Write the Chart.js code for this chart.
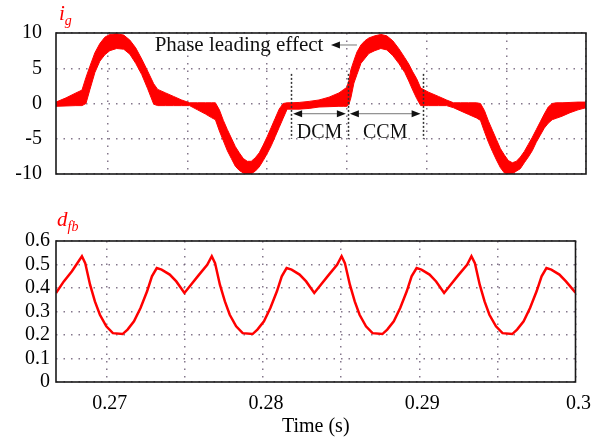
<!DOCTYPE html>
<html><head><meta charset="utf-8">
<script src="https://cdn.jsdelivr.net/npm/chart.js@4"></script>
<style>
html,body{margin:0;padding:0;background:#fff;}
#wrap{position:relative;width:598px;height:443px;overflow:hidden;background:#fff;}
canvas{position:absolute;left:0;}
#c1{top:0}
#c2{top:200px}
.lab{position:absolute;font-family:'Liberation Serif',serif;font-style:italic;color:#f00;line-height:1;}
.lab sub{font-size:14px;vertical-align:baseline;position:relative;top:5px;}
</style></head>
<body><div id="wrap">
<canvas id="c1" width="598" height="200"></canvas>
<canvas id="c2" width="598" height="243"></canvas>
<div class="lab" style="left:59px;top:3px;font-size:21px">i<sub>g</sub></div>
<div class="lab" style="left:57px;top:209px;font-size:21px">d<sub>fb</sub></div>
</div>
<script>
// ---- data: grid current i_g (upper / lower edge of the switching-ripple band)
const timeIg = [0.26675,0.26738,0.268,0.26838,0.26863,0.26888,0.26919,0.2695,0.26981,0.27013,0.27056,0.271,0.27138,0.27175,0.27213,0.2725,0.27288,0.27313,0.27363,0.27413,0.27463,0.27513,
0.27563,0.27613,0.2765,0.27675,0.277,0.27725,0.2775,0.27775,0.278,0.27825,0.2785,0.27875,0.279,0.27925,0.2795,0.27975,0.28,0.28025,0.2805,0.28075,0.281,0.28125,0.2815,
0.282,0.28263,0.28325,0.28388,0.2845,0.28481,0.285,0.28513,0.28525,0.28544,0.28563,0.28588,0.28613,0.28638,0.28675,0.28713,0.2875,0.28788,0.28825,0.28863,0.28888,0.28913,0.28938,0.28963,0.29013,0.29075,0.29125,0.29169,
0.29213,0.29263,0.29313,0.29338,0.29363,0.29388,0.29413,0.29438,0.29463,0.29488,0.29513,0.29538,0.29563,0.29588,0.29613,0.29638,0.29663,0.29688,0.29713,0.29738,0.29763,0.29788,0.29813,0.2985,0.299,0.2995,0.3];
const igUpper = [0.2,0.8,1.5,1.9,3.7,5.3,7.2,8.5,9.4,9.8,9.9,9.7,9.0,7.9,6.3,4.6,2.8,2.0,1.5,1.0,0.5,0.1,
0.1,0.1,0.1,0.1,-0.9,-2.4,-3.7,-4.9,-6.1,-7.0,-7.8,-8.2,-8.2,-7.7,-7.0,-5.9,-4.7,-3.4,-2.1,-0.8,0.0,0.1,0.1,
0.15,0.3,0.5,0.9,1.5,2.0,2.3,3.3,4.8,6.1,7.3,8.3,8.9,9.3,9.6,9.8,9.6,8.9,7.8,6.5,5.6,4.5,3.5,2.2,1.6,1.0,0.5,0.1,
0.1,0.1,0.1,0.0,-1.0,-2.5,-3.8,-5.1,-6.4,-7.3,-8.1,-8.4,-8.2,-7.6,-6.8,-5.8,-4.8,-3.7,-2.6,-1.5,-0.5,0.0,0.1,0.1,0.15,0.2,0.2];
const igLower = [-0.4,-0.35,-0.3,-0.3,0.0,2.0,4.4,6.0,6.9,7.5,7.8,7.7,7.0,5.7,4.1,2.1,-0.1,-0.3,-0.3,-0.3,-0.3,-0.3,
-0.9,-1.5,-2.0,-2.3,-3.9,-5.3,-6.7,-7.8,-8.9,-9.5,-9.85,-9.95,-9.95,-9.6,-9.0,-8.1,-7.1,-6.0,-4.7,-3.4,-2.1,-0.8,-0.8,
-0.8,-0.7,-0.5,-0.45,-0.4,-0.4,-0.4,-0.1,0.8,2.9,4.1,5.7,6.4,7.1,7.5,7.8,7.6,6.8,5.7,4.4,3.2,1.9,0.7,-0.3,-0.3,-0.3,-0.3,-0.6,
-1.05,-1.55,-2.05,-2.4,-4.0,-5.5,-6.8,-8.0,-9.1,-9.85,-9.95,-9.95,-9.6,-9.25,-8.4,-7.6,-6.7,-5.5,-4.5,-3.5,-2.8,-2.3,-2.1,-1.8,-1.3,-0.9,-0.6];

// ---- data: duty ratio d_fb
const timeD = [0.26675,0.26725,0.26777,0.26841,0.26862,0.26893,0.26924,0.26956,0.26997,0.27039,0.27101,0.27133,0.27174,0.27216,0.27258,0.27289,0.2732,0.27351,0.27403,0.27445,0.27497,0.27539,0.27591,0.27643,
0.27672,0.27693,0.27724,0.27756,0.27787,0.27828,0.2787,0.27933,0.27964,0.28006,0.28047,0.28089,0.2812,0.28151,0.28183,0.28234,0.28276,0.28328,0.2837,0.28422,0.28474,
0.28503,0.28524,0.28556,0.28587,0.28618,0.28659,0.28701,0.28764,0.28795,0.28837,0.28878,0.2892,0.28951,0.28983,0.29014,0.29066,0.29108,0.29159,0.29201,0.29253,0.29306,
0.29334,0.29356,0.29387,0.29418,0.29449,0.29491,0.29533,0.29595,0.29626,0.29668,0.29709,0.29751,0.29783,0.29814,0.29845,0.29897,0.29939,0.3];
const dfb = [0.379,0.428,0.471,0.535,0.506,0.414,0.343,0.286,0.237,0.208,0.204,0.223,0.258,0.315,0.386,0.45,0.485,0.478,0.457,0.428,0.379,0.414,0.457,0.499,
0.535,0.506,0.414,0.343,0.286,0.237,0.208,0.204,0.223,0.258,0.315,0.386,0.45,0.485,0.478,0.457,0.428,0.379,0.414,0.457,0.499,
0.535,0.506,0.414,0.343,0.286,0.237,0.208,0.204,0.223,0.258,0.315,0.386,0.45,0.485,0.478,0.457,0.428,0.379,0.414,0.457,0.499,
0.535,0.506,0.414,0.343,0.286,0.237,0.208,0.204,0.223,0.258,0.315,0.386,0.45,0.485,0.478,0.457,0.428,0.38];

// ---- ticks
const xGridTicks = [0.27,0.275,0.28,0.285,0.29,0.295,0.3];
const xLabelTicks = [0.27,0.28,0.29,0.3];
const igTicks = [-10,-5,0,5,10];
const dTicks = [0,0.1,0.2,0.3,0.4,0.5,0.6];

// ---- annotations (DCM / CCM boundaries and phase-lead note)
const markTimes = [0.2815,0.28506,0.28975];
const modeLabels = ['DCM','CCM'];
const phaseText = 'Phase leading effect';

const RED = '#ff0000';
const FONT = "'Liberation Serif', 'Times New Roman', serif";
Chart.defaults.font.family = FONT;
Chart.defaults.color = '#000';

const gridStyle = { color: 'rgba(110,95,120,0.85)', lineWidth: 1.5, drawTicks: false };
const borderStyle = { display: false, dash: [1.5, 6] };

const framePlugin = {
  id: 'frame',
  afterDraw(chart) {
    const a = chart.chartArea, ctx = chart.ctx;
    ctx.save();
    ctx.strokeStyle = '#1a1a1a';
    ctx.lineWidth = 1.6;
    ctx.strokeRect(a.left, a.top, a.right - a.left, a.bottom - a.top);
    ctx.restore();
  }
};

function head(ctx, x, y, dir) {
  ctx.beginPath();
  ctx.moveTo(x, y);
  ctx.lineTo(x - dir * 9, y - 3.5);
  ctx.lineTo(x - dir * 9, y + 3.5);
  ctx.closePath();
  ctx.fill();
}

const annotPlugin = {
  id: 'annot',
  afterDatasetsDraw(chart) {
    const ctx = chart.ctx, xs = chart.scales.x, ys = chart.scales.y;
    ctx.save();
    // dashed boundaries
    ctx.strokeStyle = '#333';
    ctx.lineWidth = 1.5;
    ctx.setLineDash([2, 2]);
    const yt = ys.getPixelForValue(4.2), yb = ys.getPixelForValue(-5.0);
    markTimes.forEach(t => {
      const px = Math.round(xs.getPixelForValue(t)) + 0.5;
      ctx.beginPath(); ctx.moveTo(px, yt); ctx.lineTo(px, yb); ctx.stroke();
    });
    ctx.setLineDash([]);
    // double arrows + labels
    const ya = ys.getPixelForValue(-1.45);
    ctx.font = '20px ' + FONT;
    ctx.textAlign = 'center';
    ctx.textBaseline = 'middle';
    for (let i = 0; i < 2; i++) {
      const x1 = xs.getPixelForValue(markTimes[i]) + 2, x2 = xs.getPixelForValue(markTimes[i + 1]) - 2;
      ctx.strokeStyle = '#777'; ctx.lineWidth = 1;
      ctx.beginPath(); ctx.moveTo(x1 + 6, ya); ctx.lineTo(x2 - 6, ya); ctx.stroke();
      ctx.fillStyle = '#111';
      head(ctx, x1, ya, -1); head(ctx, x2, ya, 1);
      ctx.fillStyle = '#111';
      ctx.fillText(modeLabels[i], (x1 + x2) / 2, ys.getPixelForValue(-4.1));
    }
    // phase leading note
    ctx.font = '21px ' + FONT;
    ctx.textAlign = 'left';
    ctx.fillStyle = '#111';
    const yp = ys.getPixelForValue(8.3);
    ctx.fillText(phaseText, xs.getPixelForValue(0.27294), yp);
    const a1 = xs.getPixelForValue(0.28400), a2 = xs.getPixelForValue(0.28563);
    ctx.strokeStyle = '#777'; ctx.lineWidth = 1;
    ctx.beginPath(); ctx.moveTo(a1 + 6, yp); ctx.lineTo(a2, yp); ctx.stroke();
    head(ctx, a1, yp, -1);
    ctx.restore();
  }
};

const pts = (xs, ys) => xs.map((x, i) => ({ x: x, y: ys[i] }));
const setTicks = arr => scale => { scale.ticks = arr.map(v => ({ value: v })); };

new Chart(document.getElementById('c1'), {
  type: 'line',
  data: {
    datasets: [
      { data: pts(timeIg, igUpper), borderColor: RED, backgroundColor: RED, borderWidth: 1, pointRadius: 0, fill: '+1' },
      { data: pts(timeIg, igLower), borderColor: RED, backgroundColor: RED, borderWidth: 1, pointRadius: 0, fill: false }
    ]
  },
  options: {
    responsive: false, animation: false,
    layout: { padding: { top: 33, right: 12, left: 0, bottom: 0 } },
    plugins: { legend: { display: false }, tooltip: { enabled: false } },
    scales: {
      x: {
        type: 'linear', min: 0.26675, max: 0.3,
        afterBuildTicks: setTicks(xGridTicks),
        afterFit: s => { s.height = 15; },
        ticks: { display: false },
        grid: gridStyle, border: borderStyle
      },
      y: {
        min: -10, max: 10,
        afterBuildTicks: setTicks(igTicks),
        afterFit: s => { s.width = 56; },
        ticks: { autoSkip: false, padding: 14, font: { size: 20 }, callback: v => String(v) },
        grid: gridStyle, border: borderStyle
      }
    }
  },
  plugins: [annotPlugin, framePlugin]
});

new Chart(document.getElementById('c2'), {
  type: 'line',
  data: {
    datasets: [
      { data: pts(timeD, dfb), borderColor: RED, borderWidth: 2.5, pointRadius: 0, fill: false }
    ]
  },
  options: {
    responsive: false, animation: false,
    layout: { padding: { top: 41, right: 12, left: 0, bottom: 0 } },
    plugins: { legend: { display: false }, tooltip: { enabled: false } },
    scales: {
      x: {
        type: 'linear', min: 0.26675, max: 0.3,
        afterBuildTicks: setTicks(xGridTicks),
        afterFit: s => { s.height = 61; },
        ticks: {
          autoSkip: false, maxRotation: 0, padding: 10, labelOffset: 3, font: { size: 20 },
          callback: v => xLabelTicks.some(l => Math.abs(l - v) < 1e-9) ? String(v) : ''
        },
        title: { display: true, text: 'Time (s)', font: { size: 20 }, padding: { top: 0, bottom: 4 } },
        grid: gridStyle, border: borderStyle
      },
      y: {
        min: 0, max: 0.6,
        afterBuildTicks: setTicks(dTicks),
        afterFit: s => { s.width = 56; },
        ticks: { autoSkip: false, padding: 6, font: { size: 20 }, callback: v => (v === 0 ? '0' : v.toFixed(1)) },
        grid: gridStyle, border: borderStyle
      }
    }
  },
  plugins: [framePlugin]
});
</script>
</body></html>
